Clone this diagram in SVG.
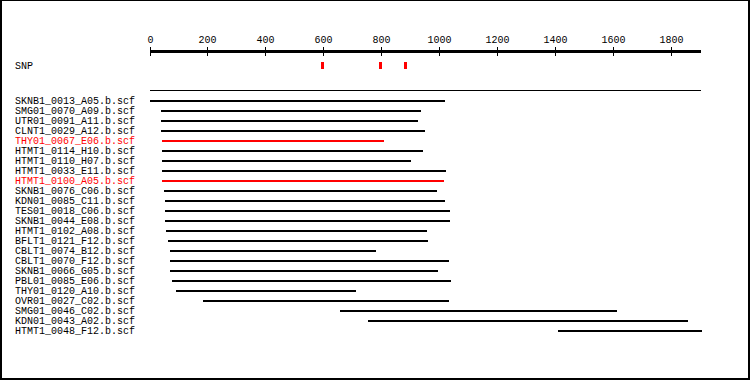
<svg xmlns="http://www.w3.org/2000/svg" width="750" height="380" viewBox="0 0 750 380">
<style>
text{font-family:"Liberation Mono","DejaVu Sans Mono",monospace;font-size:10px;fill:#000}
.lbl{text-anchor:start}
.tk{text-anchor:middle}
.red{fill:#ff0000}
.bar{fill:#000}
.rbar{fill:#ff0000}
</style>
<rect x="0" y="0" width="750" height="380" fill="#fff"/>
<g id="frame" fill="#000">
<rect x="0" y="0" width="750" height="1"/>
<rect x="0" y="0" width="2" height="380"/>
<rect x="748" y="0" width="2" height="380"/>
<rect x="0" y="378" width="750" height="2"/>
</g>
<g id="axis">
<rect x="150" y="50" width="551" height="3" fill="#000"/>
<g fill="#000">
<rect x="150" y="47" width="1" height="9"/>
<rect x="207" y="47" width="1" height="9"/>
<rect x="265" y="47" width="1" height="9"/>
<rect x="323" y="47" width="1" height="9"/>
<rect x="381" y="47" width="1" height="9"/>
<rect x="439" y="47" width="1" height="9"/>
<rect x="497" y="47" width="1" height="9"/>
<rect x="555" y="47" width="1" height="9"/>
<rect x="613" y="47" width="1" height="9"/>
<rect x="671" y="47" width="1" height="9"/>
</g>
<text class="tk" x="150.5" y="43">0</text>
<text class="tk" x="207.5" y="43">200</text>
<text class="tk" x="265.5" y="43">400</text>
<text class="tk" x="323.5" y="43">600</text>
<text class="tk" x="381.5" y="43">800</text>
<text class="tk" x="439.5" y="43">1000</text>
<text class="tk" x="497.5" y="43">1200</text>
<text class="tk" x="555.5" y="43">1400</text>
<text class="tk" x="613.5" y="43">1600</text>
<text class="tk" x="671.5" y="43">1800</text>
</g>
<g id="snp">
<text class="lbl" x="15" y="69">SNP</text>
<rect x="321" y="62" width="3" height="7" fill="#ff0000"/>
<rect x="379" y="62" width="3" height="7" fill="#ff0000"/>
<rect x="404" y="62" width="3" height="7" fill="#ff0000"/>
</g>
<rect id="separator" x="150" y="90" width="551" height="1" fill="#000"/>
<g id="reads">
<g id="r0"><text class="lbl" x="15" y="104">SKNB1_0013_A05.b.scf</text><rect class="bar" x="150" y="100" width="295" height="2"/></g>
<g id="r1"><text class="lbl" x="15" y="114">SMG01_0070_A09.b.scf</text><rect class="bar" x="161" y="110" width="260" height="2"/></g>
<g id="r2"><text class="lbl" x="15" y="124">UTR01_0091_A11.b.scf</text><rect class="bar" x="161" y="120" width="257" height="2"/></g>
<g id="r3"><text class="lbl" x="15" y="134">CLNT1_0029_A12.b.scf</text><rect class="bar" x="161" y="130" width="264" height="2"/></g>
<g id="r4"><text class="lbl red" x="15" y="144">THY01_0067_E06.b.scf</text><rect class="rbar" x="162" y="140" width="222" height="2"/></g>
<g id="r5"><text class="lbl" x="15" y="154">HTMT1_0114_H10.b.scf</text><rect class="bar" x="162" y="150" width="261" height="2"/></g>
<g id="r6"><text class="lbl" x="15" y="164">HTMT1_0110_H07.b.scf</text><rect class="bar" x="162" y="160" width="249" height="2"/></g>
<g id="r7"><text class="lbl" x="15" y="174">HTMT1_0033_E11.b.scf</text><rect class="bar" x="162" y="170" width="284" height="2"/></g>
<g id="r8"><text class="lbl red" x="15" y="184">HTMT1_0100_A05.b.scf</text><rect class="rbar" x="162" y="180" width="282" height="2"/></g>
<g id="r9"><text class="lbl" x="15" y="194">SKNB1_0076_C06.b.scf</text><rect class="bar" x="164" y="190" width="273" height="2"/></g>
<g id="r10"><text class="lbl" x="15" y="204">KDN01_0085_C11.b.scf</text><rect class="bar" x="165" y="200" width="280" height="2"/></g>
<g id="r11"><text class="lbl" x="15" y="214">TES01_0018_C06.b.scf</text><rect class="bar" x="165" y="210" width="285" height="2"/></g>
<g id="r12"><text class="lbl" x="15" y="224">SKNB1_0044_E08.b.scf</text><rect class="bar" x="165" y="220" width="285" height="2"/></g>
<g id="r13"><text class="lbl" x="15" y="234">HTMT1_0102_A08.b.scf</text><rect class="bar" x="166" y="230" width="261" height="2"/></g>
<g id="r14"><text class="lbl" x="15" y="244">BFLT1_0121_F12.b.scf</text><rect class="bar" x="168" y="240" width="260" height="2"/></g>
<g id="r15"><text class="lbl" x="15" y="254">CBLT1_0074_B12.b.scf</text><rect class="bar" x="170" y="250" width="206" height="2"/></g>
<g id="r16"><text class="lbl" x="15" y="264">CBLT1_0070_F12.b.scf</text><rect class="bar" x="170" y="260" width="279" height="2"/></g>
<g id="r17"><text class="lbl" x="15" y="274">SKNB1_0066_G05.b.scf</text><rect class="bar" x="170" y="270" width="268" height="2"/></g>
<g id="r18"><text class="lbl" x="15" y="284">PBL01_0085_E06.b.scf</text><rect class="bar" x="172" y="280" width="279" height="2"/></g>
<g id="r19"><text class="lbl" x="15" y="294">THY01_0120_A10.b.scf</text><rect class="bar" x="176" y="290" width="180" height="2"/></g>
<g id="r20"><text class="lbl" x="15" y="304">OVR01_0027_C02.b.scf</text><rect class="bar" x="203" y="300" width="246" height="2"/></g>
<g id="r21"><text class="lbl" x="15" y="314">SMG01_0046_C02.b.scf</text><rect class="bar" x="340" y="310" width="277" height="2"/></g>
<g id="r22"><text class="lbl" x="15" y="324">KDN01_0043_A02.b.scf</text><rect class="bar" x="368" y="320" width="320" height="2"/></g>
<g id="r23"><text class="lbl" x="15" y="334">HTMT1_0048_F12.b.scf</text><rect class="bar" x="558" y="330" width="144" height="2"/></g>
</g>
</svg>
